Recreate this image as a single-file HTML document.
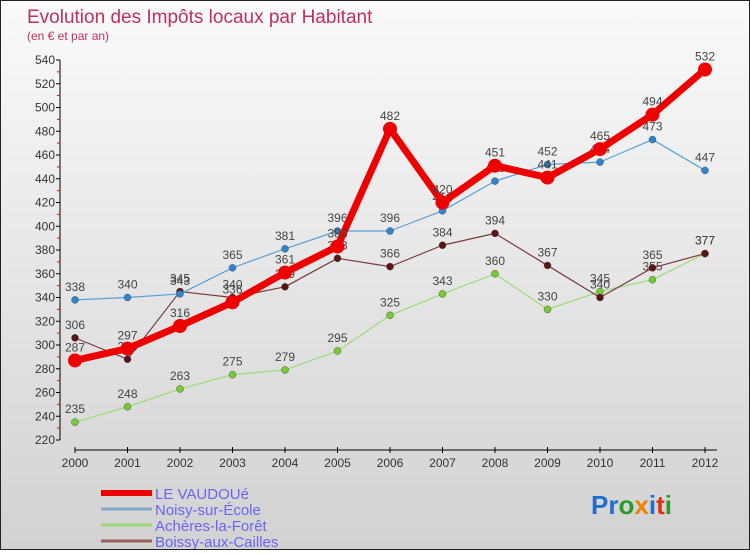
<!DOCTYPE html>
<html><head><meta charset="utf-8"><style>
body{margin:0;width:750px;height:550px;overflow:hidden;font-family:"Liberation Sans",sans-serif}
#wrap{position:relative;width:748px;height:548px;border:1px solid #222;background:linear-gradient(#fafafa,#d2d2d2)}
</style></head><body>
<div id="wrap">
<svg id="chart" width="748" height="548" xmlns="http://www.w3.org/2000/svg">
<text x="26" y="22" font-size="19" fill="#c0305e">Evolution des Impôts locaux par Habitant</text>
<text x="26" y="39" font-size="12" fill="#c0305e">(en € et par an)</text>
<text x="590" y="513" font-size="26" font-weight="bold"><tspan fill="#1f6fcf">Pr</tspan><tspan fill="#2a9a2a">o</tspan><tspan fill="#f08000">x</tspan><tspan fill="#1f6fcf">i</tspan><tspan fill="#e03010">t</tspan><tspan fill="#2a9a2a">i</tspan></text>
</svg>
</div>
<script>
const years=[2000,2001,2002,2003,2004,2005,2006,2007,2008,2009,2010,2011,2012];
const yTicks=[220,240,260,280,300,320,340,360,380,400,420,440,460,480,500,520,540];
const seriesNames=["LE VAUDOUé","Noisy-sur-École","Achères-la-Forêt","Boissy-aux-Cailles"];
const vaudoue=[287,297,316,336,361,383,482,420,451,441,465,494,532];
const noisy=[338,340,343,365,381,396,396,413,438,452,454,473,447];
const acheres=[235,248,263,275,279,295,325,343,360,330,345,355,377];
const boissy=[306,288,345,340,349,373,366,384,394,367,340,365,377];
const NS="http://www.w3.org/2000/svg";
const svg=document.getElementById('chart');
function xs(i){return 74+i*52.5;}
function ys(v){return 439-(v-220)*(380/320);}
function mk(t,a,p){const e=document.createElementNS(NS,t);for(const k in a)e.setAttribute(k,a[k]);(p||svg).appendChild(e);return e;}
// y axis
let ax=mk('line',{x1:59,y1:ys(540),x2:59,y2:ys(220),stroke:'#000'});


yTicks.forEach((v,i)=>{
  mk('line',{x1:55,y1:ys(v),x2:59,y2:ys(v),stroke:'#000'});
  if(i<yTicks.length-1){mk('line',{x1:56,y1:ys(v+10),x2:59,y2:ys(v+10),stroke:'#e00'});}
  const t=mk('text',{x:54,y:ys(v)+4,'font-size':12,'text-anchor':'end',fill:'#333'});
  t.textContent=v;
  
  
});
let bx=mk('line',{x1:xs(0),y1:449,x2:xs(12)+12,y2:449,stroke:'#000'});


years.forEach((y,i)=>{
  mk('line',{x1:xs(i),y1:446,x2:xs(i),y2:452,stroke:'#000'});
  const t=mk('text',{x:xs(i),y:466,'font-size':12,'text-anchor':'middle',fill:'#333'});
  t.textContent=y;
  
  
});
const styles=[
 {d:vaudoue,c:'#ee0000',w:7,r:7,name:'le-vaudoue'},
 {d:noisy,c:'#5aa0d8',w:1.2,r:3.5,f:'#2f86cf',name:'noisy-sur-ecole'},
 {d:acheres,c:'#99dd77',w:1.2,r:3.5,f:'#77cc33',name:'acheres-la-foret'},
 {d:boissy,c:'#7a3a3a',w:1.2,r:3.5,f:'#5a1515',name:'boissy-aux-cailles'}];
const order=[2,3,1,0];
order.forEach(k=>{
  const s=styles[k];
  const g=mk('g',{});
  
  
  const pts=s.d.map((v,i)=>xs(i)+','+ys(v)).join(' ');
  mk('polyline',{points:pts,fill:'none',stroke:s.c,'stroke-width':s.w,'stroke-linejoin':'round'},g);
  s.d.forEach((v,i)=>{
    const c=mk('circle',{cx:xs(i),cy:ys(v),r:s.r,fill:s.f||s.c,stroke:k==0?'none':'#333','stroke-width':0.4},g);
    
    
    const t=mk('text',{x:xs(i),y:ys(v)-9,'font-size':12,'text-anchor':'middle',fill:'#444'},g);
    t.textContent=v;
    
    
  });
});
// legend
const lc=['#ee0000','#80a8c8','#99d877','#996060'];
seriesNames.forEach((n,i)=>{
  const y=492+i*16;
  const g=mk('g',{});
  
  
  mk('line',{x1:100,y1:y,x2:151,y2:y,stroke:lc[i],'stroke-width':i==0?6:3},g);
  const t=mk('text',{x:154,y:y+6,'font-size':15,fill:'#6666ee'},g);
  t.textContent=n;
});
</script>
</body></html>
